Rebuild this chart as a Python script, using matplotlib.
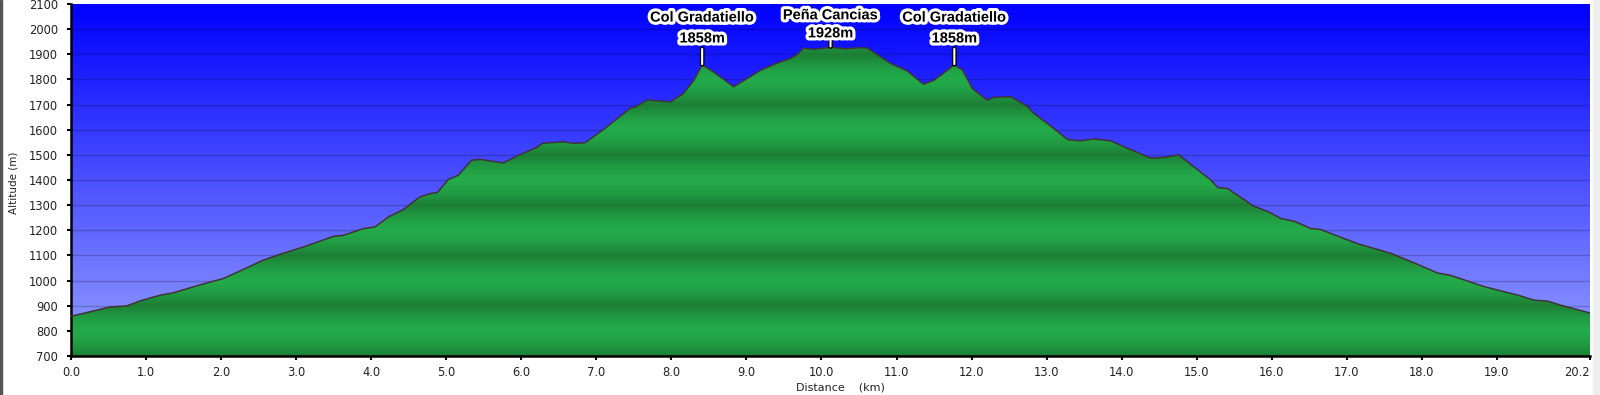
import numpy as np
import matplotlib
matplotlib.use("Agg")
import matplotlib.pyplot as plt
import matplotlib.patheffects as pe
from matplotlib.patches import Rectangle

# profile (km, m)
dist_km = [0.0, 0.34, 0.52, 0.74, 0.92, 1.19, 1.36, 1.72, 2.03, 2.25, 2.56, 2.79,
           3.10, 3.50, 3.63, 3.90, 4.05, 4.23, 4.43, 4.65, 4.79, 4.88, 5.03, 5.16,
           5.34, 5.45, 5.76, 5.94, 6.21, 6.28, 6.56, 6.70, 6.85, 7.10, 7.45, 7.52,
           7.68, 7.99, 8.16, 8.30, 8.41, 8.56, 8.83, 9.05, 9.19, 9.45, 9.59, 9.68,
           9.76, 9.90, 10.12, 10.32, 10.50, 10.61, 10.92, 11.14, 11.36, 11.50, 11.77,
           11.88, 12.01, 12.12, 12.21, 12.30, 12.52, 12.74, 12.83, 13.01, 13.28, 13.45,
           13.63, 13.85, 14.08, 14.39, 14.56, 14.76, 14.85, 15.19, 15.28, 15.41, 15.54,
           15.76, 15.96, 16.12, 16.30, 16.52, 16.65, 17.14, 17.59, 17.94, 18.21, 18.39,
           18.84, 19.28, 19.50, 19.68, 19.85, 20.24]
alt_m = [858, 882, 895, 899, 919, 942, 951, 983, 1008, 1038, 1081, 1105,
         1134, 1176, 1180, 1207, 1213, 1253, 1283, 1333, 1346, 1350, 1402, 1419,
         1479, 1482, 1468, 1495, 1530, 1546, 1552, 1546, 1548, 1602, 1685, 1691,
         1718, 1711, 1744, 1797, 1858, 1830, 1771, 1811, 1837, 1870, 1884, 1900,
         1924, 1920, 1928, 1922, 1926, 1925, 1864, 1834, 1781, 1797, 1858,
         1837, 1764, 1738, 1718, 1729, 1731, 1694, 1665, 1625, 1561, 1556,
         1563, 1556, 1526, 1487, 1490, 1500, 1479, 1399, 1370, 1366, 1340,
         1296, 1273, 1247, 1236, 1207, 1203, 1147, 1108, 1065, 1030, 1020,
         975, 942, 922, 918, 902, 871]

# named points
poi_names = ["Col Gradatiello", "Peña Cancias", "Col Gradatiello"]
poi_km = [8.41, 10.12, 11.77]
poi_alt = [1858, 1928, 1858]

x_ticks = [float(i) for i in range(20)] + [20.24]
x_ticklabels = ["%.1f" % i for i in range(20)] + ["20.2"]
y_ticks = list(range(700, 2101, 100))

x = np.array(dist_km)
y = np.array(alt_m)
xmax = x[-1]
ymin, ymax = 700, 2100

fig = plt.figure(figsize=(16, 3.95), dpi=100)
ax = fig.add_axes([71/1600, 1-356/395, (1590-71)/1600, (356-4)/395])

# sky gradient
t = np.linspace(0, 1, 400)[:, None]
top = np.array([0, 0, 255]) / 255
bot = np.array([150, 160, 255]) / 255
sky = top + (bot - top) * t
ax.imshow(sky[:, None, :].repeat(2, axis=1), extent=[0, xmax, ymin, ymax],
          aspect="auto", origin="upper", zorder=0, interpolation="bilinear")

ax.hlines(range(800, 2100, 100), 0, xmax, colors="black", alpha=0.2, lw=1, zorder=1)

# green fill with banded shading
light = np.array([35, 170, 74]) / 255
dark = np.array([28, 126, 53]) / 255
a = np.linspace(ymax, ymin, 1400)
d = (a - 800) % 200
k = (1 - np.abs(d - 100) / 100) ** 1.6
green = light[None, :] * (1 - k[:, None]) + dark[None, :] * k[:, None]
poly = ax.fill_between(x, ymin, y, facecolor="none", edgecolor="none", zorder=2)
im = ax.imshow(green[:, None, :].repeat(2, axis=1), extent=[0, xmax, ymin, ymax],
               aspect="auto", origin="upper", zorder=2, interpolation="bilinear")
im.set_clip_path(poly.get_paths()[0], transform=ax.transData)
ax.plot(x, y, color="#3f3535", lw=1.1, zorder=3)

# labels on the peaks
stroke = [pe.withStroke(linewidth=4.5, foreground="white")]
bar_fx = [pe.withStroke(linewidth=3.5, foreground="black")]
for name, km, h in zip(poi_names, poi_km, poi_alt):
    if h > 1900:
        bar, off1, off2 = 4, 10, 23
    else:
        bar, off1, off2 = 11, 19, 34
    ax.annotate("", xy=(km, h + 3), xytext=(0, bar), textcoords="offset points",
                arrowprops=dict(arrowstyle="-", color="white", lw=1.5,
                                shrinkA=0, shrinkB=0, path_effects=bar_fx),
                zorder=5, annotation_clip=False)
    ax.annotate("%dm" % h, xy=(km, h), xytext=(0, off1), textcoords="offset points",
                ha="center", va="center", fontsize=10.5, fontweight="bold",
                family="Liberation Sans", color="black", path_effects=stroke, zorder=6)
    ax.annotate(name, xy=(km, h), xytext=(0, off2), textcoords="offset points",
                ha="center", va="center", fontsize=10.5, fontweight="bold",
                family="Liberation Sans", color="black", path_effects=stroke, zorder=6)

ax.set_xlim(0, xmax)
ax.set_ylim(ymin, ymax)
ax.set_xticks(x_ticks)
ax.set_xticklabels(x_ticklabels)
ax.get_xticklabels()[-1].set_horizontalalignment("right")
ax.set_yticks(y_ticks)
ax.tick_params(axis="y", length=3.2, width=1.5, pad=6, labelsize=8.3, labelcolor="#222222")
ax.tick_params(axis="x", length=3.2, width=1.5, pad=4, labelsize=8.3, labelcolor="#222222")
for s in ["top", "right"]:
    ax.spines[s].set_visible(False)
for s in ["left", "bottom"]:
    ax.spines[s].set_linewidth(1.8)

fig.text(14/1600, 1-183/395, "Altitude (m)", rotation=90, ha="center", va="center",
         fontsize=7.5, color="#222222")
fig.text(840/1600, 1-388/395, "Distance    (km)", ha="center", va="center",
         fontsize=8, color="#222222")

fig.patches.append(Rectangle((0, 0), 2/1600, 1, transform=fig.transFigure,
                             color="#555555", zorder=-1))
fig.patches.append(Rectangle((1593/1600, 0), 7/1600, 1, transform=fig.transFigure,
                             color="#eeeeee", zorder=-1))

fig.savefig("out.png", dpi=100)
